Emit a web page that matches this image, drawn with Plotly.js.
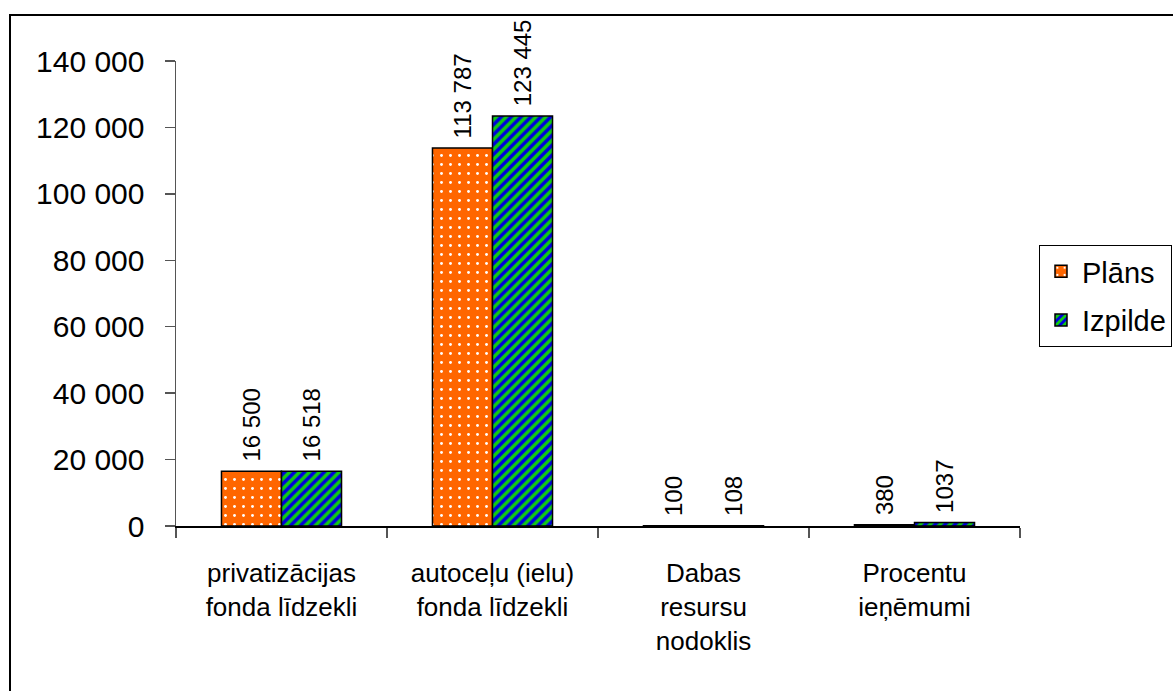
<!DOCTYPE html>
<html>
<head>
<meta charset="utf-8">
<script src="https://cdn.plot.ly/plotly-3.0.1.min.js"></script>
<style>
  html, body { margin: 0; padding: 0; background: #fff; overflow: hidden; }
  #chart { width: 1173px; height: 691px; }
</style>
</head>
<body>
<div id="chart"></div>
<script>
const categories = [
  'privatizācijas<br>fonda līdzekli',
  'autoceļu (ielu)<br>fonda līdzekli',
  'Dabas<br>resursu<br>nodoklis',
  'Procentu<br>ieņēmumi'
];
const seriesNames = ['Plāns', 'Izpilde'];
const planValues = [16500, 113787, 100, 380];
const izpildeValues = [16518, 123445, 108, 1037];
const yTickVals = [0, 20000, 40000, 60000, 80000, 100000, 120000, 140000];
const yTickText = ['0', '20 000', '40 000', '60 000', '80 000', '100 000', '120 000', '140 000'];

function fmt(v) {
  const s = String(v);
  return '\u00a0' + (v >= 10000 ? s.replace(/\B(?=(\d{3})+(?!\d))/g, ' ') : s);
}

const regular = '"Liberation Sans", Arial, sans-serif';

const common = {
  type: 'bar',
  x: categories,
  textposition: 'outside',
  textangle: -90,
  cliponaxis: false,
  constraintext: 'none',
  textfont: { family: regular, size: 24, color: '#000' },
  hoverinfo: 'x+y'
};

const traces = [
  Object.assign({}, common, {
    name: seriesNames[0],
    legendgroup: 'a',
    y: planValues,
    text: planValues.map(fmt),
    marker: {
      color: '#FF6600',
      line: { color: '#000', width: 1.5 },
      pattern: { shape: '.', bgcolor: '#FF6600', fgcolor: '#FFFFFF', size: 9, solidity: 0.08 }
    }
  }),
  Object.assign({}, common, {
    name: seriesNames[1],
    legendgroup: 'b',
    y: izpildeValues,
    text: izpildeValues.map(fmt),
    marker: {
      color: '#0000DD',
      line: { color: '#000', width: 1.5 },
      pattern: { shape: '/', bgcolor: '#0000DD', fgcolor: '#11CC11', size: 7, solidity: 0.5 }
    }
  })
];

const L = 176, R = 1020, T = 61, B = 526;
const W = R - L, H = B - T;
const px = x => (x - L) / W;
const py = y => (B - y) / H;

const layout = {
  width: 1173,
  height: 691,
  margin: { l: L, r: 1173 - R, t: T, b: 691 - B, pad: 0, autoexpand: false },
  paper_bgcolor: '#fff',
  plot_bgcolor: '#fff',
  font: { family: regular, color: '#000' },
  barmode: 'group',
  bargap: 0.431,
  bargroupgap: 0,
  showlegend: true,
  legend: {
    x: px(1039), xanchor: 'left',
    y: py(245), yanchor: 'top',
    bordercolor: '#000', borderwidth: 1,
    bgcolor: '#fff',
    font: { family: regular, size: 29, color: '#000' },
    itemwidth: 32,
    entrywidth: 200,
    traceorder: 'grouped',
    tracegroupgap: 8
  },
  xaxis: {
    type: 'category',
    automargin: false,
    showline: true, linecolor: '#000', linewidth: 2,
    ticks: 'outside', tickson: 'boundaries', ticklen: 10, tickcolor: '#555', tickwidth: 1.5,
    showgrid: false, zeroline: false,
    tickfont: { family: regular, size: 26, color: '#000' },
    ticklabelstandoff: 23
  },
  yaxis: {
    range: [0, 140000],
    automargin: false,
    tickvals: yTickVals, ticktext: yTickText,
    showline: true, linecolor: '#555', linewidth: 1.5,
    ticks: 'outside', ticklen: 10, tickcolor: '#555', tickwidth: 1.5,
    showgrid: false, zeroline: false,
    tickfont: { family: regular, size: 30, color: '#000' },
    ticklabelstandoff: 14
  },
  shapes: [{
    type: 'rect', xref: 'paper', yref: 'paper',
    x0: px(10), x1: px(1190), y0: py(710), y1: py(15),
    line: { color: '#000', width: 2 },
    fillcolor: 'rgba(0,0,0,0)',
    layer: 'below'
  }]
};

Plotly.newPlot('chart', traces, layout, { displayModeBar: false, staticPlot: true });
</script>
</body>
</html>
